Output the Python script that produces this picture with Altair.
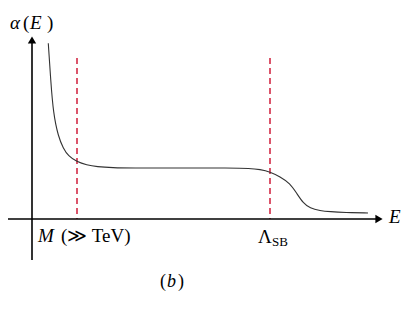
import altair as alt
import pandas as pd

# Curve alpha(E) (arbitrary units)
E_vals = [1.63, 1.87, 2.13, 2.63, 3.13, 3.63, 4.47, 5.47, 6.47, 8.1, 9.8, 14.8, 19.8,
          21.8, 22.8, 23.8, 24.8, 25.8, 26.47, 27.13, 27.8, 28.8, 29.8, 31.3, 33.6]
alpha_vals = [17.57, 13.9, 10.57, 8.23, 7.07, 6.3, 5.73, 5.4, 5.23, 5.13, 5.1, 5.1, 5.1,
              5.07, 4.95, 4.73, 4.23, 3.57, 2.57, 1.57, 1.07, 0.83, 0.73, 0.65, 0.6]

# Dashed marker positions
marker_E = [4.5, 23.8]
marker_top = 16.1

# Axes extents
x_axis = [-2.4, 34.6]
y_axis = [-4.1, 17.8]
x_arrow = 34.7
y_arrow = 17.9

# Italic labels
it_x = [-2.2, -0.2, 0.6, 35.7, 13.5]
it_y = [19.0, 19.0, -2.3, -0.4, -6.8]
it_t = ["α", "E", "M", "E", "b"]
it_s = [19, 19, 19, 19, 18]

# Upright labels
up_x = [-0.9, 1.5, 2.9, 22.6, 24.0, 12.8, 14.6]
up_y = [19.0, 19.0, -2.3, -2.4, -2.7, -6.8, -6.8]
up_t = ["(", ")", "(≫ TeV)", "Λ", "SB", "(", ")"]
up_s = [19, 19, 19, 19, 13, 18, 18]

FONT = "Liberation Serif"

X = alt.Scale(domain=[-2.4, 37.5], nice=False, zero=False)
Y = alt.Scale(domain=[-8.5, 21.1], nice=False, zero=False)

curve_df = pd.DataFrame({"E": E_vals, "a": alpha_vals})
curve = alt.Chart(curve_df).mark_line(
    interpolate="basis", color="#333333", strokeWidth=1.1, clip=False
).encode(x=alt.X("E:Q", scale=X, axis=None), y=alt.Y("a:Q", scale=Y, axis=None))

dash_df = pd.DataFrame({"E": marker_E, "top": [marker_top] * 2, "bot": [0.0] * 2})
dashes = alt.Chart(dash_df).mark_rule(
    color="#d01c3a", strokeWidth=1.5, strokeDash=[6, 4]
).encode(x=alt.X("E:Q", scale=X, axis=None), y=alt.Y("top:Q", scale=Y, axis=None), y2="bot:Q")

xax = alt.Chart(pd.DataFrame({"x1": [x_axis[0]], "x2": [x_axis[1]], "y": [0.0]})).mark_rule(
    color="black", strokeWidth=1.6
).encode(x=alt.X("x1:Q", scale=X, axis=None), x2="x2:Q", y=alt.Y("y:Q", scale=Y, axis=None))

yax = alt.Chart(pd.DataFrame({"y1": [y_axis[0]], "y2": [y_axis[1]], "x": [0.0]})).mark_rule(
    color="black", strokeWidth=1.6
).encode(y=alt.Y("y1:Q", scale=Y, axis=None), y2="y2:Q", x=alt.X("x:Q", scale=X, axis=None))

xhead = alt.Chart(pd.DataFrame({"x": [x_arrow], "y": [0.0]})).mark_point(
    shape="triangle-right", filled=True, color="black", size=70, opacity=1
).encode(x=alt.X("x:Q", scale=X, axis=None), y=alt.Y("y:Q", scale=Y, axis=None))

yhead = alt.Chart(pd.DataFrame({"x": [0.0], "y": [y_arrow]})).mark_point(
    shape="triangle-up", filled=True, color="black", size=70, opacity=1
).encode(x=alt.X("x:Q", scale=X, axis=None), y=alt.Y("y:Q", scale=Y, axis=None))


def labels(xs, ys, ts, ss, style):
    df = pd.DataFrame({"x": xs, "y": ys, "t": ts, "s": ss})
    return alt.Chart(df).mark_text(
        align="left", baseline="alphabetic", font=FONT,
        fontStyle=style, color="black"
    ).encode(
        x=alt.X("x:Q", scale=X, axis=None), y=alt.Y("y:Q", scale=Y, axis=None),
        text="t:N", size=alt.Size("s:Q", scale=None, legend=None)
    )

chart = alt.layer(
    dashes, curve, xax, yax, xhead, yhead,
    labels(it_x, it_y, it_t, it_s, "italic"),
    labels(up_x, up_y, up_t, up_s, "normal"),
).properties(
    width=399, height=296, padding=0, autosize=alt.AutoSizeParams(type="none")
).configure_view(stroke=None)

chart.save("out.html", embed_options={"renderer": "svg", "actions": False})
